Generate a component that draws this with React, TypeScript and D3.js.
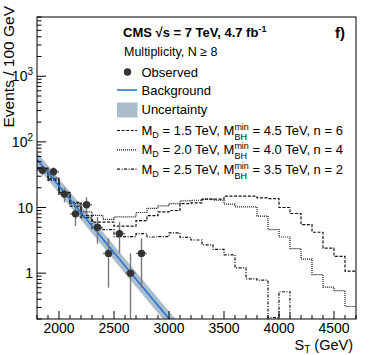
import { useEffect, useRef } from 'react'
import * as d3 from 'd3'

// 100 GeV bins, lower edges
const binLow = [
  1800, 1900, 2000, 2100, 2200, 2300, 2400, 2500, 2600, 2700, 2800, 2900, 3000, 3100, 3200,
  3300, 3400, 3500, 3600, 3700, 3800, 3900, 4000, 4100, 4200, 4300, 4400, 4500, 4600,
]
const binWidth = 100

// observed data
const obsST = [1850, 1950, 2050, 2150, 2250, 2350, 2450, 2550, 2650, 2750]
const obsN = [37, 35, 16, 8, 11, 5, 2, 4, 1, 2]
const obsErr = [6.1, 5.9, 4.0, 2.8, 3.3, 2.2, 1.4, 2.0, 1.0, 1.4]

// background fit + uncertainty band
const bgST = [1800, 2200, 2600, 3200]
const bgVal = [54, 8.4, 1.29, 0.08]
const bgLow = [42, 6.5, 0.99, 0.061]
const bgHigh = [69, 10.8, 1.66, 0.104]

// signal benchmarks (per bin)
const sigA = [
  40, 27, 17, 12, 7.5, 6.0, 6.0, 5.2, 5.2, 6.3, 7.5, 8.6, 9.0, 11.5, 11.8,
  13.4, 13.4, 14.9, 14.9, 14.9, 14.0, 13.7, 10.0, 8.1, 5.5, 4.2, 2.4, 1.8, 1.07,
]
const sigB = [
  38, 28, 16, 11.5, 8.6, 7.6, 6.6, 7.2, 7.2, 8.4, 9.7, 10.6, 11.5, 12.6, 12.9,
  13.4, 12.9, 11.3, 10.2, 10.2, 7.4, 4.6, 3.55, 2.36, 1.64, 0.95, 0.61, 0.54, 0.31,
]
const sigC = [
  39, 26, 16, 10.5, 7.0, 4.8, 4.6, 3.6, 3.6, 4.0, 3.55, 3.6, 4.1, 3.5, 3.2,
  2.7, 2.3, 1.9, 1.2, 0.82, 0.78, 0.21, 0.52, 0, 0, 0, 0, 0, 0,
]

const signals = [
  { vals: sigA, md: '1.5', mbh: '4.5', n: '6', dash: '3,1.6' },
  { vals: sigB, md: '2.0', mbh: '4.0', n: '4', dash: '1,1' },
  { vals: sigC, md: '2.5', mbh: '3.5', n: '2', dash: '3,1.5,1,1.5' },
]

const yMajor = [1, 10, 100, 1000]
const xMajor = [2000, 2500, 3000, 3500, 4000, 4500]

const FONT = "'Liberation Sans', Arial, Helvetica, sans-serif"

const App = () => {
  const svgRef = useRef(null)

  useEffect(() => {
    const svg = d3.select(svgRef.current)
    svg.selectAll('*').remove()

    const W = 374
    const H = 355
    const margin = { top: 17, left: 37, right: 18, bottom: 36 }

    const x = d3
      .scaleLinear()
      .domain([1800, 4700])
      .range([margin.left, W - margin.right])
    const y = d3
      .scaleLog()
      .domain([0.2, 8000])
      .range([H - margin.bottom, margin.top])

    const yc = (v) => y(Math.max(v, 0.02))

    svg.append('rect').attr('width', W).attr('height', H).attr('fill', 'white')

    svg
      .append('clipPath')
      .attr('id', 'plotclip')
      .append('rect')
      .attr('x', margin.left)
      .attr('y', margin.top)
      .attr('width', W - margin.left - margin.right)
      .attr('height', H - margin.top - margin.bottom)

    const plot = svg.append('g').attr('clip-path', 'url(#plotclip)')

    // uncertainty band
    const bandData = bgST.map((s, i) => ({ s, lo: bgLow[i], hi: bgHigh[i] }))
    plot
      .append('path')
      .datum(bandData)
      .attr(
        'd',
        d3
          .area()
          .x((d) => x(d.s))
          .y0((d) => yc(d.lo))
          .y1((d) => yc(d.hi)),
      )
      .attr('fill', '#a9bdcc')

    // signal step histograms
    signals.forEach((sig) => {
      const pts = binLow.map((b, i) => [b, sig.vals[i]])
      pts.push([binLow[binLow.length - 1] + binWidth, sig.vals[sig.vals.length - 1]])
      plot
        .append('path')
        .datum(pts)
        .attr(
          'd',
          d3
            .line()
            .curve(d3.curveStepAfter)
            .x((d) => x(d[0]))
            .y((d) => yc(d[1])),
        )
        .attr('fill', 'none')
        .attr('stroke', '#111')
        .attr('stroke-width', 1.2)
        .attr('stroke-dasharray', sig.dash)
    })

    // background line
    const bgData = bgST.map((s, i) => [s, bgVal[i]])
    plot
      .append('path')
      .datum(bgData)
      .attr(
        'd',
        d3
          .line()
          .x((d) => x(d[0]))
          .y((d) => yc(d[1])),
      )
      .attr('fill', 'none')
      .attr('stroke', '#1c6fd6')
      .attr('stroke-width', 1.5)

    // observed points with errors
    const obs = obsST.map((s, i) => ({ s, n: obsN[i], e: obsErr[i] }))
    const eg = plot.append('g').attr('stroke', '#777').attr('stroke-width', 1.4)
    eg.selectAll('line.v')
      .data(obs)
      .enter()
      .append('line')
      .attr('x1', (d) => x(d.s))
      .attr('x2', (d) => x(d.s))
      .attr('y1', (d) => yc(d.n - d.e))
      .attr('y2', (d) => yc(d.n + d.e))
    eg.selectAll('line.h')
      .data(obs)
      .enter()
      .append('line')
      .attr('x1', (d) => x(d.s - binWidth / 2))
      .attr('x2', (d) => x(d.s + binWidth / 2))
      .attr('y1', (d) => yc(d.n))
      .attr('y2', (d) => yc(d.n))
    plot
      .selectAll('circle.obs')
      .data(obs)
      .enter()
      .append('circle')
      .attr('cx', (d) => x(d.s))
      .attr('cy', (d) => yc(d.n))
      .attr('r', 3.7)
      .attr('fill', '#333')

    // frame
    svg
      .append('rect')
      .attr('x', margin.left)
      .attr('y', margin.top)
      .attr('width', W - margin.left - margin.right)
      .attr('height', H - margin.top - margin.bottom)
      .attr('fill', 'none')
      .attr('stroke', 'black')
      .attr('stroke-width', 1)

    const axes = svg.append('g').attr('stroke', 'black').attr('stroke-width', 1)
    const y0 = H - margin.bottom

    // x ticks
    const xMinor = d3.range(1800, 4701, 100)
    axes
      .selectAll('line.xt')
      .data(xMinor)
      .enter()
      .append('line')
      .attr('x1', (d) => x(d))
      .attr('x2', (d) => x(d))
      .attr('y1', y0)
      .attr('y2', (d) => y0 - (d % 500 === 0 ? 8 : 4))

    // y ticks
    const yTicks = y.ticks()
    axes
      .selectAll('line.yt')
      .data(yTicks)
      .enter()
      .append('line')
      .attr('x1', margin.left)
      .attr('x2', (d) => margin.left + (yMajor.includes(d) ? 9 : 4.5))
      .attr('y1', (d) => y(d))
      .attr('y2', (d) => y(d))

    const txt = svg.append('g').attr('font-family', FONT).attr('fill', 'black')

    txt
      .selectAll('text.xl')
      .data(xMajor)
      .enter()
      .append('text')
      .attr('x', (d) => x(d))
      .attr('y', 333)
      .attr('text-anchor', 'middle')
      .attr('font-size', 14)
      .text((d) => d)

    yMajor.forEach((v) => {
      const t = txt
        .append('text')
        .attr('x', 33)
        .attr('y', y(v) + 5)
        .attr('text-anchor', 'end')
        .attr('font-size', 14)
      if (v < 100) {
        t.text(v)
      } else {
        t.append('tspan').text('10')
        t.append('tspan')
          .attr('dy', -6)
          .attr('font-size', 10)
          .text(Math.round(Math.log10(v)))
      }
    })

    // axis titles
    const xt = txt
      .append('text')
      .attr('x', 353)
      .attr('y', 350)
      .attr('text-anchor', 'end')
      .attr('font-size', 14.5)
    xt.append('tspan').text('S')
    xt.append('tspan').attr('dy', 3).attr('font-size', 10).text('T')
    xt.append('tspan').attr('dy', -3).text(' (GeV)')

    txt
      .append('text')
      .attr('transform', 'translate(13.5,6) rotate(-90)')
      .attr('text-anchor', 'end')
      .attr('font-size', 15.5)
      .text('Events / 100 GeV')

    // header
    const cms = txt
      .append('text')
      .attr('x', 123)
      .attr('y', 36.5)
      .attr('font-size', 13)
      .attr('font-weight', 'bold')
    cms.append('tspan').text('CMS \u221As = 7 TeV, 4.7 fb')
    cms.append('tspan').attr('dy', -5).attr('font-size', 9).text('-1')

    txt
      .append('text')
      .attr('x', 335)
      .attr('y', 38)
      .attr('font-size', 15)
      .attr('font-weight', 'bold')
      .text('f)')

    txt
      .append('text')
      .attr('x', 124)
      .attr('y', 56)
      .attr('font-size', 12.5)
      .text('Multiplicity, N \u2265 8')

    // legend
    const lx = 141.5
    const leg = svg.append('g')
    leg.append('circle').attr('cx', 127.5).attr('cy', 72).attr('r', 3.7).attr('fill', '#333')
    txt.append('text').attr('x', lx).attr('y', 77).attr('font-size', 13).text('Observed')

    leg
      .append('line')
      .attr('x1', 117)
      .attr('x2', 137)
      .attr('y1', 90)
      .attr('y2', 90)
      .attr('stroke', '#1c6fd6')
      .attr('stroke-width', 1.5)
    txt.append('text').attr('x', lx).attr('y', 95).attr('font-size', 13).text('Background')

    leg
      .append('rect')
      .attr('x', 117)
      .attr('y', 102.5)
      .attr('width', 20.5)
      .attr('height', 15)
      .attr('fill', '#a9bdcc')
    txt.append('text').attr('x', lx).attr('y', 114).attr('font-size', 13).text('Uncertainty')

    signals.forEach((sig, i) => {
      const base = 135 + i * 19.3
      leg
        .append('line')
        .attr('x1', 117)
        .attr('x2', 137)
        .attr('y1', base - 4.5)
        .attr('y2', base - 4.5)
        .attr('stroke', '#111')
        .attr('stroke-width', 1.2)
        .attr('stroke-dasharray', sig.dash)
      const t = txt
        .append('text')
        .attr('x', lx)
        .attr('y', base)
        .attr('font-size', 13)
        .style('white-space', 'pre')
      t.append('tspan').text('M')
      t.append('tspan').attr('dy', 3).attr('font-size', 9).text('D')
      t.append('tspan').attr('dy', -3).text(` = ${sig.md} TeV, M`)
      t.append('tspan').attr('dy', -5).attr('font-size', 9).text('min')
      t.append('tspan').attr('dx', -14.5).attr('dy', 10).attr('font-size', 9).text('BH')
      t.append('tspan').attr('dx', 2).attr('dy', -5).text(` = ${sig.mbh} TeV, n = ${sig.n}`)
    })
  }, [])

  return (
    <svg
      ref={svgRef}
      width={374}
      height={355}
      style={{ position: 'absolute', left: 0, top: 0 }}
    ></svg>
  )
}

export default App
